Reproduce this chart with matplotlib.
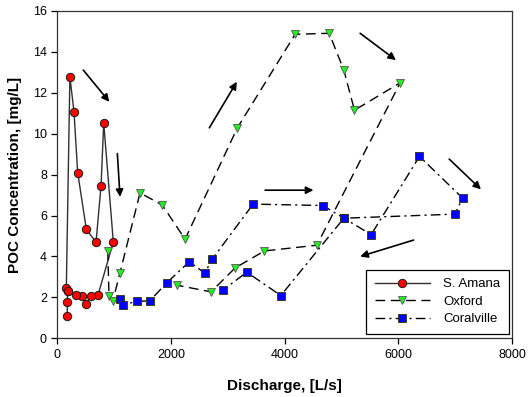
import matplotlib
matplotlib.use("Agg")
import matplotlib.pyplot as plt

plt.rcParams['font.family'] = ['Liberation Sans', 'DejaVu Sans']

# S. Amana
amana_q = [174, 174, 181, 157, 220, 292, 357, 509, 680, 768, 815, 984, 715, 592, 504, 428, 333, 181]
amana_c = [1.11, 1.78, 2.30, 2.45, 12.78, 11.07, 8.10, 5.33, 4.70, 7.45, 10.53, 4.70, 2.12, 2.09, 1.70, 2.05, 2.14, 2.30]

# Oxford
oxford_q = [886, 908, 974, 1102, 1454, 1847, 2246, 3167, 4183, 4782, 5040, 5227, 6032, 4565, 3643, 3127, 2704, 2111]
oxford_c = [4.27, 2.09, 1.81, 3.21, 7.11, 6.51, 4.84, 10.29, 14.86, 14.91, 13.11, 11.15, 12.49, 4.55, 4.27, 3.44, 2.27, 2.59]

# Coralville
coral_q = [1102, 1155, 1396, 1625, 1924, 2322, 2593, 2722, 3444, 4671, 5040, 5521, 6371, 7128, 6995, 5040, 3931, 3333, 2910]
coral_c = [1.91, 1.63, 1.81, 1.83, 2.71, 3.75, 3.18, 3.86, 6.56, 6.49, 5.87, 5.07, 8.89, 6.86, 6.07, 5.87, 2.09, 3.23, 2.35]

# hysteresis direction arrows: (x_start, y_start, x_end, y_end)
arrows = [
    (456, 13.11, 914, 11.56),
    (1055, 9.03, 1102, 6.91),
    (2674, 10.29, 3157, 12.54),
    (5327, 14.91, 5956, 13.60),
    (3655, 7.24, 4505, 7.24),
    (6894, 8.76, 7452, 7.28),
    (6266, 4.80, 5327, 4.00),
]

fig = plt.figure(figsize=(5.29, 3.97), dpi=100)
ax = fig.add_axes([0.1085, 0.1479, 0.8595, 0.8244])

line_col = "#303030"
ax.plot(amana_q, amana_c, color=line_col, lw=1.0, ls="-",
        marker="o", ms=6, mfc="red", mec="#1a1a1a", mew=0.7, label="S. Amana")
ax.plot(oxford_q, oxford_c, color="black", lw=1.0, ls=(0, (7, 4)),
        marker="v", ms=6, mfc="#22ee22", mec="#555555", mew=0.6, label="Oxford")
ax.plot(coral_q, coral_c, color="black", lw=1.0, ls=(0, (7, 3, 1.5, 3)),
        marker="s", ms=5.5, mfc="blue", mec="#333300", mew=0.6, label="Coralville")

for x0, y0, x1, y1 in arrows:
    ax.annotate("", xy=(x1, y1), xytext=(x0, y0),
                arrowprops=dict(arrowstyle="-|>", color="black", lw=1.2,
                                mutation_scale=11, shrinkA=0, shrinkB=0))

ax.set_xlim(0, 8000)
ax.set_ylim(0, 16)
ax.set_xticks([0, 2000, 4000, 6000, 8000])
ax.set_yticks(range(0, 17, 2))
ax.tick_params(direction="out", length=4, width=0.9, labelsize=9, top=False, right=False)
for s in ax.spines.values():
    s.set_linewidth(0.9)
    s.set_color("#333333")

ax.set_xlabel("Discharge, [L/s]", fontsize=11, fontweight="bold", labelpad=13)
ax.set_ylabel("POC Concentration, [mg/L]", fontsize=11, fontweight="bold", labelpad=8)

leg = ax.legend(loc="lower right", bbox_to_anchor=(0.993, 0.013), borderaxespad=0,
                fontsize=9.5, handlelength=4.2, labelspacing=0.4, fancybox=False,
                edgecolor="black", framealpha=1, borderpad=0.65, handletextpad=1.0)
leg.get_frame().set_linewidth(0.9)

fig.savefig("out.png", dpi=100)
